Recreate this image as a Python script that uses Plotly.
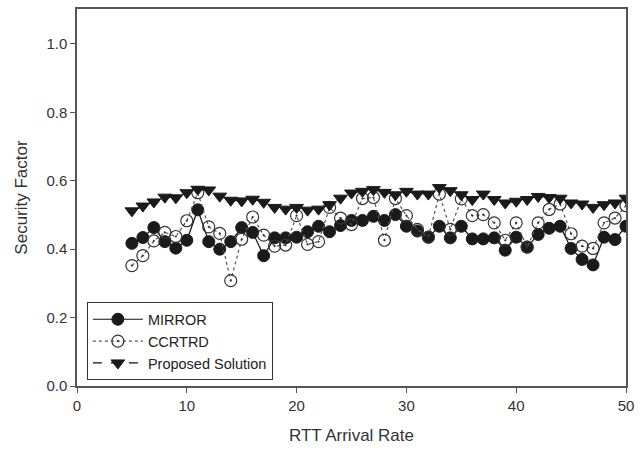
import plotly.graph_objects as go

x_vals = list(range(5, 51))

mirror = [0.417, 0.434, 0.463, 0.422, 0.403, 0.426, 0.515, 0.422, 0.400, 0.422,
          0.463, 0.449, 0.381, 0.433, 0.433, 0.435, 0.451, 0.467, 0.451, 0.469,
          0.484, 0.484, 0.496, 0.484, 0.501, 0.467, 0.453, 0.435, 0.467, 0.433,
          0.467, 0.430, 0.430, 0.433, 0.397, 0.435, 0.406, 0.443, 0.461, 0.467,
          0.402, 0.370, 0.354, 0.435, 0.428, 0.467]

ccrtrd = [0.352, 0.381, 0.424, 0.449, 0.437, 0.483, 0.565, 0.465, 0.446, 0.308,
          0.429, 0.494, 0.441, 0.409, 0.412, 0.498, 0.414, 0.422, 0.522, 0.491,
          0.472, 0.548, 0.551, 0.426, 0.548, 0.498, 0.458, 0.435, 0.561, 0.458,
          0.547, 0.498, 0.501, 0.477, 0.426, 0.477, 0.406, 0.477, 0.516, 0.532,
          0.445, 0.409, 0.402, 0.477, 0.491, 0.527]

proposed = [0.512, 0.526, 0.538, 0.552, 0.550, 0.565, 0.575, 0.573, 0.555, 0.543,
            0.541, 0.546, 0.537, 0.522, 0.517, 0.522, 0.514, 0.517, 0.530, 0.549,
            0.564, 0.569, 0.574, 0.566, 0.559, 0.569, 0.561, 0.561, 0.580, 0.571,
            0.559, 0.545, 0.561, 0.545, 0.535, 0.540, 0.545, 0.554, 0.551, 0.549,
            0.535, 0.532, 0.522, 0.530, 0.535, 0.549]

x_ticks = [0, 10, 20, 30, 40, 50]
y_ticks = [0.0, 0.2, 0.4, 0.6, 0.8, 1.0]

font_family = "Liberation Sans, Arial, sans-serif"

fig = go.Figure()
fig.add_trace(go.Scatter(
    x=x_vals, y=mirror, name="MIRROR", mode="lines+markers",
    line=dict(color="#111111", width=1.2),
    marker=dict(symbol="circle", size=12, color="#1a1a1a",
                line=dict(color="#1a1a1a", width=1)),
))
fig.add_trace(go.Scatter(
    x=x_vals, y=ccrtrd, name="CCRTRD", mode="lines+markers",
    line=dict(color="#555555", width=1.2, dash="dot"),
    marker=dict(symbol="circle-open-dot", size=12, color="#333333",
                line=dict(color="#333333", width=1.2)),
))
fig.add_trace(go.Scatter(
    x=x_vals, y=proposed, name="Proposed Solution", mode="lines+markers",
    line=dict(color="#111111", width=1.2, dash="dash"),
    marker=dict(symbol="triangle-down", size=12, color="#1a1a1a",
                line=dict(color="#1a1a1a", width=1)),
))

fig.update_layout(
    width=641, height=450,
    margin=dict(l=77, r=9, t=7, b=64),
    paper_bgcolor="white", plot_bgcolor="white",
    font=dict(family=font_family, size=15, color="#333333"),
    showlegend=True,
    legend=dict(
        x=0.018, y=0.222, xanchor="left", yanchor="top",
        bgcolor="white", bordercolor="#333333", borderwidth=1,
        font=dict(family=font_family, size=14.5, color="#222222"),
        itemwidth=50, tracegroupgap=0,
    ),
    xaxis=dict(
        range=[0, 50], tickvals=x_ticks, ticktext=[str(v) for v in x_ticks],
        showgrid=False, zeroline=False,
        showline=True, linecolor="#555555", linewidth=1.5, mirror=True,
        ticks="outside", ticklen=5, tickcolor="#555555", tickwidth=1,
        tickfont=dict(size=15, color="#333333"),
        title=dict(text="RTT Arrival Rate", font=dict(size=17, color="#333333"), standoff=16),
    ),
    yaxis=dict(
        range=[0, 1.102], tickvals=y_ticks, ticktext=[f"{v:.1f}" for v in y_ticks],
        showgrid=False, zeroline=False,
        showline=True, linecolor="#555555", linewidth=1.5, mirror=True,
        ticks="outside", ticklen=5, tickcolor="#555555", tickwidth=1,
        tickfont=dict(size=15, color="#333333"),
        title=dict(text="Security Factor", font=dict(size=17, color="#333333"), standoff=14),
    ),
)

fig.write_html("out.html")
